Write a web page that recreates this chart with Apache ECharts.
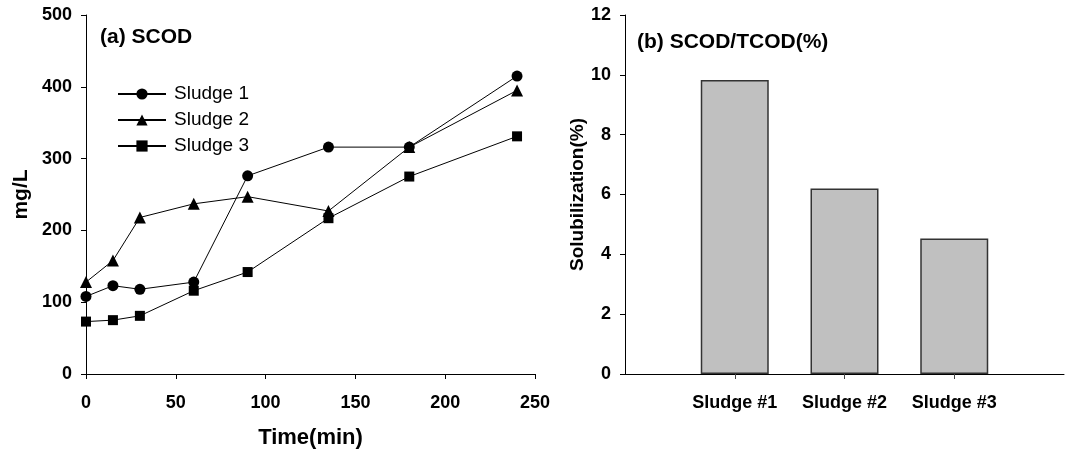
<!DOCTYPE html>
<html>
<head>
<meta charset="utf-8">
<script src="https://cdn.jsdelivr.net/npm/echarts@6/dist/echarts.min.js"></script>
<style>
  html, body { margin: 0; padding: 0; background: #fff; }
  #main { width: 1067px; height: 459px; }
</style>
</head>
<body>
<div id="main"></div>
<script>
// panel (a): SCOD over time
const times = [0, 15, 30, 60, 90, 135, 180, 240]
const sludge1 = [108, 123, 118, 128, 276, 316, 316, 415]
const sludge2 = [128, 158, 218, 237, 247, 227, 316, 395]
const sludge3 = [73, 75, 81, 116, 142, 217, 275, 331]

// panel (b): solubilization
const barCats = ['Sludge #1', 'Sludge #2', 'Sludge #3']
const solub = [9.83, 6.2, 4.53]

const FONT = '"Liberation Sans", Arial, sans-serif'
const pair = (xs, ys) => xs.map((x, i) => [x, ys[i]])

// pad the category axis so bars sit at 1,2,3 of 0..4
const catAxis = [''].concat(barCats, [''])
const barData = ['-'].concat(solub, ['-'])

const chart = echarts.init(document.getElementById('main'))

const axisCommon = {
  axisLine: { show: true, lineStyle: { color: '#000', width: 1 } },
  axisTick: { show: true, inside: false, length: 5, lineStyle: { color: '#000' } },
  splitLine: { show: false },
  axisLabel: { color: '#000', fontFamily: FONT, fontWeight: 'bold', fontSize: 18 },
}

const lineSeries = (name, data, symbol, size) => ({
  name: name,
  type: 'line',
  xAxisIndex: 0,
  yAxisIndex: 0,
  data: pair(times, data),
  symbol: symbol,
  symbolSize: size,
  showAllSymbol: true,
  lineStyle: { color: '#000', width: 1 },
  itemStyle: { color: '#000' },
  emphasis: { disabled: true },
})

chart.setOption({
  animation: false,
  textStyle: { fontFamily: FONT },
  title: [
    {
      text: '(a) SCOD', left: 100, top: 27, padding: 0,
      textStyle: { fontFamily: FONT, fontWeight: 'bold', fontSize: 21, color: '#000' }
    },
    {
      text: '(b) SCOD/TCOD(%)', left: 637, top: 32, padding: 0,
      textStyle: { fontFamily: FONT, fontWeight: 'bold', fontSize: 21, color: '#000' }
    },
  ],
  legend: {
    left: 112,
    top: 79,
    orient: 'vertical',
    itemWidth: 48,
    itemHeight: 14,
    itemGap: 6,
    textStyle: { fontFamily: FONT, fontSize: 19, color: '#000', lineHeight: 20, padding: [0, 0, 0, 3] },
    data: ['Sludge 1', 'Sludge 2', 'Sludge 3'],
  },
  grid: [
    { left: 86, top: 15, width: 449, height: 359 },
    { left: 625, top: 15, width: 449, height: 359 },
  ],
  xAxis: [
    Object.assign({}, axisCommon, {
      gridIndex: 0, type: 'value', min: 0, max: 250, interval: 50,
      name: 'Time(min)', nameLocation: 'middle', nameGap: 53,
      nameTextStyle: { fontFamily: FONT, fontWeight: 'bold', fontSize: 22, color: '#000' },
      axisLabel: Object.assign({}, axisCommon.axisLabel, { margin: 20 }),
    }),
    Object.assign({}, axisCommon, {
      gridIndex: 1, type: 'category', data: catAxis, boundaryGap: false,
      axisTick: { show: true, length: 5, interval: (i) => i > 0 && i < catAxis.length - 1, lineStyle: { color: '#444' } },
      axisLabel: Object.assign({}, axisCommon.axisLabel, { margin: 20, interval: 0 }),
    }),
  ],
  yAxis: [
    Object.assign({}, axisCommon, {
      gridIndex: 0, type: 'value', min: 0, max: 500, interval: 100,
      name: 'mg/L', nameLocation: 'middle', nameGap: 54,
      nameTextStyle: { fontFamily: FONT, fontWeight: 'bold', fontSize: 21, color: '#000' },
      axisLabel: Object.assign({}, axisCommon.axisLabel, { margin: 14 }),
    }),
    Object.assign({}, axisCommon, {
      gridIndex: 1, type: 'value', min: 0, max: 12, interval: 2,
      name: 'Solubilization(%)', nameLocation: 'middle', nameGap: 37,
      nameTextStyle: { fontFamily: FONT, fontWeight: 'bold', fontSize: 19, color: '#000' },
      axisLabel: Object.assign({}, axisCommon.axisLabel, { margin: 14 }),
    }),
  ],
  series: [
    lineSeries('Sludge 1', sludge1, 'circle', 11),
    lineSeries('Sludge 2', sludge2, 'triangle', 12),
    lineSeries('Sludge 3', sludge3, 'rect', 10),
    {
      type: 'bar',
      xAxisIndex: 1,
      yAxisIndex: 1,
      data: barData,
      barWidth: 68,
      itemStyle: { color: '#c0c0c0', borderColor: '#333', borderWidth: 1.5 },
      emphasis: { disabled: true },
    },
  ],
})
</script>
</body>
</html>
